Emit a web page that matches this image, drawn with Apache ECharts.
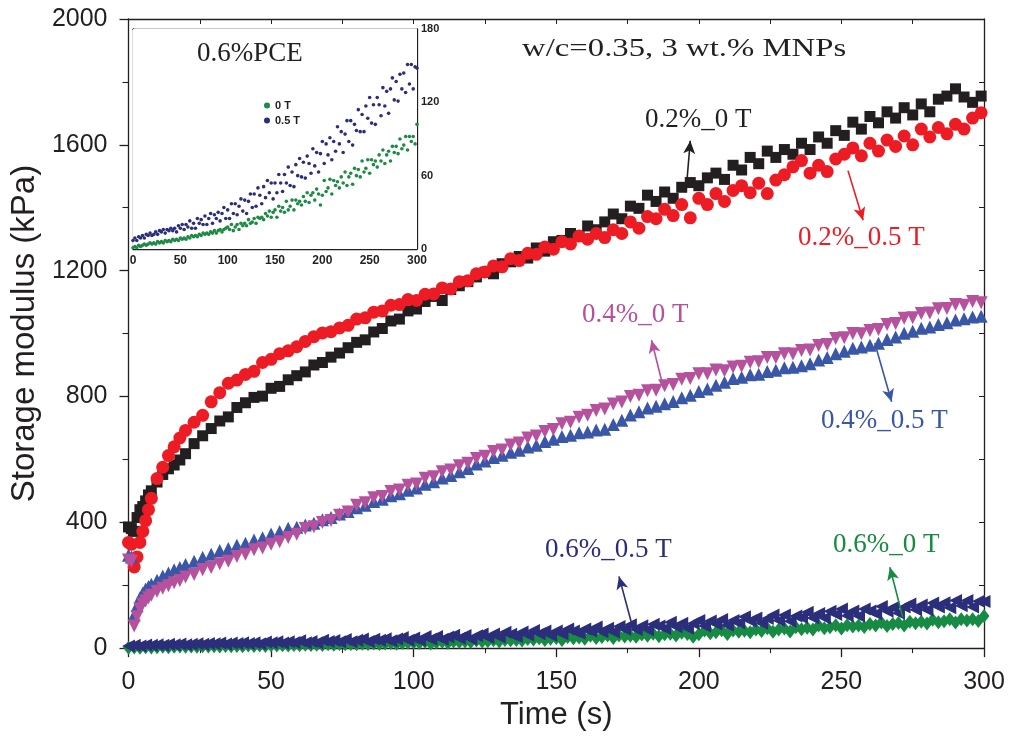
<!DOCTYPE html>
<html>
<head>
<meta charset="utf-8">
<script src="https://cdn.jsdelivr.net/npm/echarts@6/dist/echarts.min.js"></script>
<style>html,body{margin:0;padding:0;background:#fff}#c{width:1009px;height:736px}</style>
</head>
<body>
<div id="c"></div>
<script>
// ---- data ----
const tA = [0,1,2,3,4,5,6,7,8,10,12,14,16,18,
20,23,26,29,32,35,38,41,44,47,50,53,56,59,62,65,68,71,74,77,80,83,86,89,92,95,98,
101,104,107,110,113,116,119,122,125,128,131,134,137,140,143,146,149,152,155,158,161,164,167,170,173,176,179,182,185,188,191,194,197,
200,203,206,209,212,215,218,221,224,227,230,233,236,239,242,245,248,251,254,257,260,263,266,269,272,275,278,281,284,287,290,293,296,299];

const pce02_0T = [385,380,371,415,440,450,468,487,500,528,552,570,582,598,
618,650,675,698,722,735,765,780,797,801,826,832,853,866,878,900,908,925,938,955,972,980,1005,1016,1040,1046,1072,
1078,1102,1118,1105,1140,1152,1165,1180,1195,1190,1222,1228,1245,1240,1272,1262,1292,1296,1318,1310,1342,1330,1355,1380,1365,1405,1398,1440,1420,1450,1430,1465,1480,
1470,1495,1510,1490,1535,1520,1560,1540,1580,1560,1585,1570,1605,1585,1625,1605,1645,1630,1672,1650,1690,1670,1705,1685,1718,1695,1730,1705,1745,1755,1778,1752,1735,1755];

const pce02_05T = [336,330,258,290,336,371,405,440,476,539,575,612,640,668,
692,718,740,783,812,842,852,870,880,908,918,936,945,958,975,990,1002,1006,1018,1026,1046,1050,1068,1072,1090,1092,1108,
1105,1125,1126,1145,1142,1165,1168,1190,1196,1215,1212,1238,1232,1255,1252,1275,1268,1292,1285,1310,1300,1318,1305,1330,1318,1355,1335,1372,1365,1395,1375,1410,1368,
1430,1410,1445,1420,1455,1470,1448,1478,1445,1488,1505,1530,1550,1510,1535,1515,1555,1570,1590,1565,1605,1580,1615,1595,1628,1600,1650,1625,1655,1635,1665,1650,1685,1702];

const pce04_0T = [280,276,70,100,125,140,150,160,168,181,190,198,208,215,
226,234,249,256,268,276,291,298,313,318,330,338,352,362,380,386,399,406,422,433,454,462,478,482,498,503,518,
522,540,545,561,566,580,588,603,610,625,630,646,652,668,674,689,695,713,718,734,740,755,760,776,782,800,804,818,820,834,838,855,857,
872,872,884,882,894,896,909,910,924,924,936,935,946,948,962,965,984,987,1000,999,1010,1013,1029,1032,1049,1050,1064,1065,1079,1080,1092,1090,1102,1098];

const pce04_05T = [295,290,105,135,160,175,188,196,203,216,229,239,249,256,
266,276,289,298,310,317,327,333,344,351,363,371,381,384,391,397,408,415,426,434,446,454,466,473,484,491,502,
509,521,529,541,549,561,571,585,595,606,613,623,629,639,645,657,664,673,677,685,687,693,696,711,724,741,751,763,769,777,784,796,804,
816,824,836,845,857,861,869,871,879,883,891,893,898,904,916,924,936,944,953,957,963,969,981,989,1001,1007,1017,1021,1029,1034,1043,1047,1053,1055];

const tB = [0,2,4,6,8,10,12,14,16,18,20,22,24,26,28,30,32,34,36,38,40,42,44,46,48,50,
52,54,56,58,60,62,64,66,68,70,72,74,76,78,80,82,84,86,88,90,92,94,96,98,100,
102,104,106,108,110,112,114,116,118,120,122,124,126,128,130,132,134,136,138,140,142,144,146,148,150,
152,154,156,158,160,162,164,166,168,170,172,174,176,178,180,182,184,186,188,190,192,194,196,198,200,
202,204,206,208,210,212,214,216,218,220,222,224,226,228,230,232,234,236,238,240,242,244,246,248,250,
252,254,256,258,260,262,264,266,268,270,272,274,276,278,280,282,284,286,288,290,292,294,296,298,300];

const pce06_05T = [7,9,7,10,9,11,9,12,11,13,11,12,14,12,15,14,16,13,16,15,17,15,17,14,19,17,
20,16,20,18,23,17,21,17,25,21,24,20,27,20,25,29,21,28,25,30,23,29,34,25,32,
25,37,29,37,28,35,41,31,40,29,39,45,34,45,35,50,44,37,51,42,56,46,54,41,54,
46,61,54,47,61,54,67,52,63,51,69,60,74,59,71,58,76,70,62,82,68,79,63,78,88,
70,86,77,91,73,88,80,100,86,96,79,94,105,88,105,85,102,97,114,96,110,96,117,107,124,
103,118,102,124,118,109,132,117,129,111,131,140,122,137,121,143,131,144,128,151,135,151,131,149,148];

const pce06_0T = [1,2,1,3,2,3,4,3,4,5,4,5,4,6,5,6,5,7,6,7,6,8,7,8,7,9,
8,9,8,10,9,11,10,11,10,12,11,13,12,13,12,14,13,15,13,15,16,14,16,17,18,
16,20,15,18,20,16,21,19,21,19,24,21,22,25,21,26,25,26,24,29,27,31,26,30,32,
26,35,31,34,30,39,32,35,40,32,40,37,39,36,43,39,46,38,44,46,40,49,45,36,44,
56,47,50,57,45,56,52,55,50,59,54,63,52,59,62,53,66,60,65,59,72,63,66,73,62,
73,69,72,67,77,72,81,70,77,80,72,84,79,84,78,90,82,85,92,81,92,88,92,86,102];

const xTicksMain = [0,50,100,150,200,250,300];
const yTicksMain = [0,400,800,1200,1600,2000];
const yTicksInset = [0,60,120,180];

// ---- helpers ----
const zip = (t, v) => t.map((x, i) => [x, v[i]]);
const AX = '#231F20';
const sans = "'Liberation Sans', Arial, sans-serif";
const serif = "'Liberation Serif', 'Times New Roman', serif";

const C = {
  black: '#231F20', red: '#ED1C24', pink: '#B5519D', blue: '#3A57A7', navy: '#2B2E7A', green: '#178A43'
};

function arrow(color, from, to) {
  return {
    silent: true, symbol: ['none', 'arrow'], symbolSize: [9, 13],
    lineStyle: { color: color, width: 1.6, type: 'solid' },
    label: { show: false }, animation: false,
    data: [[{ coord: from }, { coord: to }]]
  };
}

const chart = echarts.init(document.getElementById('c'), null, { renderer: 'canvas' });

const option = {
  animation: false,
  backgroundColor: '#fff',
  grid: [
    { left: 124, right: 25, top: 19, bottom: 86 },
    { left: 133, top: 29, width: 284, height: 220, show: true, backgroundColor: '#fff', borderWidth: 0, z: 5 }
  ],
  legend: {
    data: ['0 T', '0.5 T'], orient: 'vertical', left: 259, top: 95,
    icon: 'circle', itemWidth: 6, itemHeight: 6, itemGap: 4, z: 10,
    textStyle: { fontFamily: sans, fontSize: 11, fontWeight: 'bold', color: AX }
  },
  xAxis: [
    { gridIndex: 0, type: 'value', min: 0, max: 300, interval: 50, position: 'bottom',
      axisLine: { show: true, onZero: false, lineStyle: { color: AX, width: 1.3 } },
      axisTick: { show: true, inside: false, length: 9, lineStyle: { color: AX, width: 1.3 } },
      minorTick: { show: true, splitNumber: 2, length: 5, lineStyle: { color: AX, width: 1.1 } },
      splitLine: { show: false },
      axisLabel: { fontFamily: sans, fontSize: 25, color: AX, margin: 22,
        formatter: v => xTicksMain.includes(v) ? String(v) : '' },
      name: 'Time (s)', nameLocation: 'middle', nameGap: 48,
      nameTextStyle: { fontFamily: sans, fontSize: 31, color: AX } },
    { gridIndex: 0, type: 'value', min: 0, max: 300, interval: 25, position: 'top',
      axisLine: { show: true, onZero: false, lineStyle: { color: AX, width: 1.3 } },
      axisTick: { show: true, inside: true, length: 5, lineStyle: { color: AX } },
      axisLabel: { show: false }, splitLine: { show: false } },
    { gridIndex: 1, type: 'value', min: 0, max: 300, interval: 50, position: 'bottom',
      axisLine: { show: true, onZero: false, lineStyle: { color: AX, width: 1.3 } },
      axisTick: { show: true, inside: true, length: 4, lineStyle: { color: AX } },
      minorTick: { show: true, splitNumber: 2, length: 3, lineStyle: { color: AX } },
      splitLine: { show: false },
      axisLabel: { fontFamily: sans, fontSize: 12, fontWeight: 'bold', color: AX, margin: 6 } },
    { gridIndex: 1, type: 'value', min: 0, max: 300, interval: 25, position: 'top',
      axisLine: { show: true, onZero: false, lineStyle: { color: AX, width: 1.3 } },
      axisTick: { show: true, inside: true, length: 4, lineStyle: { color: AX } },
      axisLabel: { show: false }, splitLine: { show: false } }
  ],
  yAxis: [
    { gridIndex: 0, type: 'value', min: 0, max: 2000, interval: 400, position: 'left',
      axisLine: { show: true, onZero: false, lineStyle: { color: AX, width: 1.3 } },
      axisTick: { show: true, inside: false, length: 9, lineStyle: { color: AX, width: 1.3 } },
      minorTick: { show: true, splitNumber: 2, length: 6, lineStyle: { color: AX, width: 1.1 } },
      splitLine: { show: false },
      axisLabel: { fontFamily: sans, fontSize: 25, color: AX, margin: 21,
        formatter: v => yTicksMain.includes(v) ? String(v) : '' },
      name: 'Storage modulus (kPa)', nameLocation: 'middle', nameGap: 83,
      nameTextStyle: { fontFamily: sans, fontSize: 33, color: AX } },
    { gridIndex: 0, type: 'value', min: 0, max: 2000, interval: 200, position: 'right',
      axisLine: { show: true, onZero: false, lineStyle: { color: AX, width: 1.3 } },
      axisTick: { show: true, inside: true, length: 5, lineStyle: { color: AX } },
      axisLabel: { show: false }, splitLine: { show: false } },
    { gridIndex: 1, type: 'value', min: 0, max: 180, interval: 60, position: 'right',
      axisLine: { show: true, onZero: false, lineStyle: { color: AX, width: 1.3 } },
      axisTick: { show: true, inside: true, length: 4, lineStyle: { color: AX } },
      minorTick: { show: true, splitNumber: 2, length: 3, lineStyle: { color: AX } },
      splitLine: { show: false },
      axisLabel: { fontFamily: sans, fontSize: 11, fontWeight: 'bold', color: AX, margin: 4,
        formatter: v => yTicksInset.includes(v) ? String(v) : '' } },
    { gridIndex: 1, type: 'value', min: 0, max: 180, interval: 30, position: 'left',
      axisLine: { show: true, onZero: false, lineStyle: { color: AX, width: 1.3 } },
      axisTick: { show: true, inside: true, length: 4, lineStyle: { color: AX } },
      axisLabel: { show: false }, splitLine: { show: false } }
  ],
  series: [
    { name: '0.2%_0 T', type: 'scatter', xAxisIndex: 0, yAxisIndex: 0, clip: false,
      symbol: 'rect', symbolSize: 11, itemStyle: { color: C.black, opacity: 1 },
      data: zip(tA, pce02_0T), markLine: arrow(C.black, [195.6, 1461], [197, 1613]) },
    { name: '0.2%_0.5 T', type: 'scatter', xAxisIndex: 0, yAxisIndex: 0, clip: false,
      symbol: 'circle', symbolSize: 13, itemStyle: { color: C.red, opacity: 1 },
      data: zip(tA, pce02_05T), markLine: arrow(C.red, [252.3, 1518], [257.6, 1360]) },
    { name: '0.4%_0.5 T', type: 'scatter', xAxisIndex: 0, yAxisIndex: 0, clip: false,
      symbol: 'triangle', symbolSize: 13, itemStyle: { color: C.blue, opacity: 1 },
      data: zip(tA, pce04_05T), markLine: arrow(C.blue, [261.7, 970], [267.6, 783]) },
    { name: '0.4%_0 T', type: 'scatter', xAxisIndex: 0, yAxisIndex: 0, clip: false,
      symbol: 'triangle', symbolRotate: 180, symbolSize: 13, itemStyle: { color: C.pink, opacity: 1 },
      data: zip(tA, pce04_0T), markLine: arrow(C.pink, [187.6, 827], [183.4, 979]) },
    { name: '0.6%_0 T', type: 'scatter', xAxisIndex: 0, yAxisIndex: 0, clip: false,
      symbol: 'diamond', symbolSize: [11, 14], itemStyle: { color: C.green, opacity: 1 },
      data: zip(tB, pce06_0T), markLine: arrow(C.green, [271.5, 98], [267, 257]) },
    { name: '0.6%_0.5 T', type: 'scatter', xAxisIndex: 0, yAxisIndex: 0, clip: false,
      symbol: 'triangle', symbolRotate: 90, symbolSize: 13, itemStyle: { color: C.navy, opacity: 1 },
      data: zip(tB, pce06_05T), markLine: arrow(C.navy, [176.5, 76], [172, 228]) },
    { name: '0 T', type: 'scatter', xAxisIndex: 2, yAxisIndex: 2, z: 6,
      symbol: 'circle', symbolSize: 3.6, itemStyle: { color: '#1D8A45', opacity: 1 },
      data: zip(tB, pce06_0T) },
    { name: '0.5 T', type: 'scatter', xAxisIndex: 2, yAxisIndex: 2, z: 6,
      symbol: 'circle', symbolSize: 3.6, itemStyle: { color: '#2B2E7A', opacity: 1 },
      data: zip(tB, pce06_05T) }
  ],
  graphic: [
    { type: 'text', x: 522, y: 49, scaleX: 1.26, z: 20,
      style: { text: 'w/c=0.35, 3 wt.% MNPs', font: "26px " + serif, fill: AX, verticalAlign: 'middle', align: 'left' } },
    { type: 'text', x: 197, y: 54, z: 20,
      style: { text: '0.6%PCE', font: "27px " + serif, fill: AX, verticalAlign: 'middle', align: 'left' } },
    { type: 'text', x: 645, y: 120, z: 20,
      style: { text: '0.2%_0 T', font: "27px " + serif, fill: C.black, verticalAlign: 'middle', align: 'left' } },
    { type: 'text', x: 798, y: 238, z: 20,
      style: { text: '0.2%_0.5 T', font: "27px " + serif, fill: C.red, verticalAlign: 'middle', align: 'left' } },
    { type: 'text', x: 582, y: 315, z: 20,
      style: { text: '0.4%_0 T', font: "27px " + serif, fill: C.pink, verticalAlign: 'middle', align: 'left' } },
    { type: 'text', x: 821, y: 421, z: 20,
      style: { text: '0.4%_0.5 T', font: "27px " + serif, fill: C.blue, verticalAlign: 'middle', align: 'left' } },
    { type: 'text', x: 545, y: 550, z: 20,
      style: { text: '0.6%_0.5 T', font: "27px " + serif, fill: C.navy, verticalAlign: 'middle', align: 'left' } },
    { type: 'text', x: 833, y: 545, z: 20,
      style: { text: '0.6%_0 T', font: "27px " + serif, fill: C.green, verticalAlign: 'middle', align: 'left' } }
  ]
};
chart.setOption(option);
</script>
</body>
</html>
